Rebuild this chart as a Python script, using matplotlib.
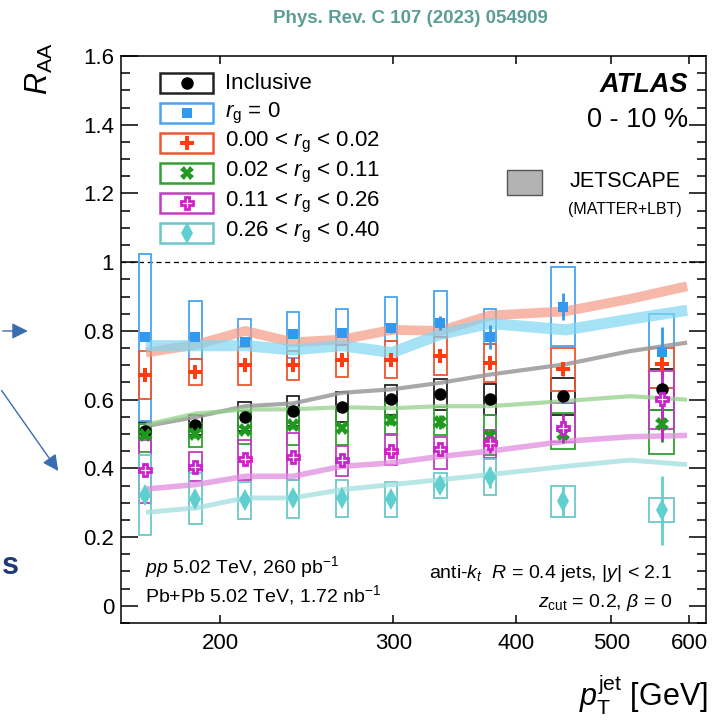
import numpy as np
import matplotlib
matplotlib.use('Agg')
import matplotlib.pyplot as plt
from matplotlib.patches import Rectangle, FancyArrowPatch
from matplotlib.ticker import FixedLocator, NullLocator, FuncFormatter, MultipleLocator

plt.rcParams['font.family'] = ['Liberation Sans', 'DejaVu Sans']
plt.rcParams['mathtext.fontset'] = 'custom'
plt.rcParams['mathtext.rm'] = 'Liberation Sans'
plt.rcParams['mathtext.it'] = 'Liberation Sans:italic'
plt.rcParams['mathtext.bf'] = 'Liberation Sans:bold'

# measurement pT bins (GeV)
bin_edges = np.array([158, 178, 200, 224, 251, 282, 316, 355, 398, 501, 631])

labels = ['Inclusive', r'$r_{\rm g}$ = 0', r'0.00 < $r_{\rm g}$ < 0.02',
          r'0.02 < $r_{\rm g}$ < 0.11', r'0.11 < $r_{\rm g}$ < 0.26',
          r'0.26 < $r_{\rm g}$ < 0.40']

# R_AA central values
raa_incl = [0.510, 0.526, 0.550, 0.567, 0.579, 0.601, 0.615, 0.601, 0.610, 0.632]
raa_rg0  = [0.782, 0.783, 0.768, 0.790, 0.793, 0.809, 0.822, 0.783, 0.871, 0.740]
raa_rg1  = [0.673, 0.681, 0.700, 0.701, 0.714, 0.715, 0.727, 0.708, 0.690, 0.703]
raa_rg2  = [0.497, 0.499, 0.513, 0.525, 0.518, 0.540, 0.535, 0.494, 0.499, 0.528]
raa_rg3  = [0.394, 0.404, 0.426, 0.433, 0.424, 0.452, 0.457, 0.474, 0.518, 0.603]
raa_rg4  = [0.322, 0.311, 0.309, 0.314, 0.314, 0.311, 0.353, 0.374, 0.304, 0.278]

# statistical uncertainties
stat_incl = [0.005, 0.005, 0.005, 0.005, 0.005, 0.005, 0.006, 0.008, 0.010, 0.015]
stat_rg0  = [0.010, 0.010, 0.010, 0.010, 0.010, 0.015, 0.020, 0.035, 0.040, 0.070]
stat_rg1  = [0.010, 0.010, 0.010, 0.010, 0.010, 0.010, 0.015, 0.020, 0.020, 0.040]
stat_rg2  = [0.010, 0.010, 0.010, 0.010, 0.010, 0.015, 0.020, 0.020, 0.025, 0.050]
stat_rg3  = [0.010, 0.010, 0.010, 0.010, 0.010, 0.010, 0.015, 0.030, 0.040, 0.120]
stat_rg4  = [0.010, 0.010, 0.010, 0.010, 0.010, 0.010, 0.015, 0.030, 0.045, 0.100]

# systematic boxes: upper and lower edges
sys_hi_incl = [0.535, 0.556, 0.594, 0.612, 0.622, 0.644, 0.659, 0.646, 0.664, 0.690]
sys_lo_incl = [0.488, 0.497, 0.508, 0.522, 0.535, 0.556, 0.571, 0.555, 0.555, 0.571]
sys_hi_rg0  = [1.023, 0.887, 0.836, 0.856, 0.865, 0.899, 0.915, 0.865, 0.985, 0.848]
sys_lo_rg0  = [0.537, 0.717, 0.752, 0.722, 0.759, 0.771, 0.783, 0.763, 0.756, 0.635]
sys_hi_rg1  = [0.741, 0.719, 0.753, 0.741, 0.759, 0.771, 0.783, 0.763, 0.749, 0.751]
sys_lo_rg1  = [0.603, 0.642, 0.644, 0.657, 0.667, 0.664, 0.671, 0.651, 0.625, 0.635]
sys_hi_rg2  = [0.530, 0.533, 0.567, 0.580, 0.566, 0.590, 0.580, 0.555, 0.560, 0.571]
sys_lo_rg2  = [0.449, 0.461, 0.471, 0.469, 0.469, 0.499, 0.497, 0.440, 0.457, 0.443]
sys_hi_rg3  = [0.482, 0.447, 0.482, 0.503, 0.466, 0.496, 0.492, 0.511, 0.591, 0.683]
sys_lo_rg3  = [0.300, 0.364, 0.365, 0.367, 0.379, 0.409, 0.397, 0.430, 0.476, 0.515]
sys_hi_rg4  = [0.440, 0.387, 0.361, 0.365, 0.367, 0.361, 0.387, 0.426, 0.348, 0.314]
sys_lo_rg4  = [0.205, 0.239, 0.253, 0.256, 0.260, 0.260, 0.314, 0.322, 0.260, 0.243]

# JETSCAPE (MATTER+LBT) curves
theo_pt   = [168, 189, 212, 237, 266, 299, 335, 376, 449, 522, 597]
theo_incl = [0.523, 0.550, 0.581, 0.589, 0.620, 0.630, 0.649, 0.673, 0.703, 0.741, 0.766]
theo_rg0  = [0.757, 0.757, 0.757, 0.745, 0.757, 0.737, 0.790, 0.822, 0.803, 0.834, 0.860]
theo_rg1  = [0.737, 0.760, 0.800, 0.767, 0.775, 0.803, 0.800, 0.845, 0.857, 0.893, 0.930]
theo_rg2  = [0.527, 0.560, 0.571, 0.572, 0.578, 0.575, 0.581, 0.581, 0.596, 0.610, 0.600]
theo_rg3  = [0.340, 0.353, 0.377, 0.377, 0.406, 0.416, 0.435, 0.450, 0.479, 0.492, 0.496]
theo_rg4  = [0.272, 0.285, 0.314, 0.314, 0.338, 0.353, 0.367, 0.382, 0.406, 0.424, 0.411]

raa = [raa_incl, raa_rg0, raa_rg1, raa_rg2, raa_rg3, raa_rg4]
stat = [stat_incl, stat_rg0, stat_rg1, stat_rg2, stat_rg3, stat_rg4]
sys_hi = [sys_hi_incl, sys_hi_rg0, sys_hi_rg1, sys_hi_rg2, sys_hi_rg3, sys_hi_rg4]
sys_lo = [sys_lo_incl, sys_lo_rg0, sys_lo_rg1, sys_lo_rg2, sys_lo_rg3, sys_lo_rg4]
theo = [theo_incl, theo_rg0, theo_rg1, theo_rg2, theo_rg3, theo_rg4]

# styles
colors = ['black', '#3399ee', '#ff3b0f', '#1f9a1f', '#cc22cc', '#5fcfcf']
box_colors = ['#222222', '#4aa3f0', '#ee5533', '#33a033', '#c33cc3', '#6cc8c8']
markers = ['o', 's', 'P', 'X', 'P', 'd']
msizes = [9, 7.5, 10.5, 10, 9, 11]
band_colors = ['#999999', '#7fd6f2', '#f49a85', '#93d08b', '#e08ee0', '#a6e0e0']
band_widths = [3, 8, 7, 3, 4, 3.5]
band_alpha = [0.85, 0.7, 0.7, 0.75, 0.75, 0.8]

fig = plt.figure(figsize=(7.12, 7.27), dpi=100)
ax = fig.add_axes([0.170, 0.143, 0.8216, 0.780])

lo = bin_edges[:-1]
hi = bin_edges[1:]
centers = np.sqrt(lo * hi)
half = 0.125 * np.log(hi / lo)
box_l = centers * np.exp(-half)
box_r = centers * np.exp(half)

ax.axhline(1.0, color='black', lw=0.9, ls=(0, (4, 3)), zorder=1)

for i in range(6):
    for j in range(len(centers)):
        ax.add_patch(Rectangle((box_l[j], sys_lo[i][j]), box_r[j] - box_l[j],
                               sys_hi[i][j] - sys_lo[i][j], fill=False,
                               edgecolor=box_colors[i], lw=1.3, zorder=2))

# theory bands
for i in [0, 3, 4, 5, 2, 1]:
    ax.plot(theo_pt, theo[i], color=band_colors[i], lw=band_widths[i],
            alpha=band_alpha[i], solid_capstyle='butt', zorder=3)

def mstyle(i):
    if i == 4:
        return dict(marker='P', ms=msizes[i], mfc='white', mec=colors[i], mew=2.0)
    return dict(marker=markers[i], ms=msizes[i], mfc=colors[i], mec=colors[i], mew=0)

for i in range(6):
    ax.errorbar(centers, raa[i], yerr=stat[i], fmt='none', ecolor=colors[i],
                elinewidth=2, capsize=0, zorder=4)
    ax.plot(centers, raa[i], ls='none', zorder=5, **mstyle(i))

# legend
row_y = [0.952, 0.899, 0.847, 0.794, 0.741, 0.688]
for i in range(6):
    ax.add_patch(Rectangle((0.067, row_y[i] - 0.0176), 0.091, 0.0352, fill=False,
                           edgecolor=box_colors[i], lw=1.8, transform=ax.transAxes,
                           zorder=6))
    ax.plot([0.1125], [row_y[i]], transform=ax.transAxes, zorder=7, **mstyle(i))
    ax.text(0.178, row_y[i], labels[i], transform=ax.transAxes, fontsize=16,
            va='center', ha='left')

ax.text(0.969, 0.949, 'ATLAS', transform=ax.transAxes, fontsize=19.5,
        fontweight='bold', fontstyle='italic', ha='right', va='center')
ax.text(0.969, 0.887, '0 - 10 %', transform=ax.transAxes, fontsize=19.5,
        ha='right', va='center')
ax.add_patch(Rectangle((0.660, 0.755), 0.060, 0.044, facecolor='#b3b3b3',
                       edgecolor='#555555', lw=1, transform=ax.transAxes))
ax.text(0.862, 0.778, 'JETSCAPE', transform=ax.transAxes, fontsize=15.5,
        ha='center', va='center')
ax.text(0.862, 0.730, '(MATTER+LBT)', transform=ax.transAxes, fontsize=11.5,
        ha='center', va='center')

ax.text(0.041, 0.099, r'$pp$ 5.02 TeV, 260 pb$^{-1}$', transform=ax.transAxes,
        fontsize=14, ha='left', va='center')
ax.text(0.041, 0.049, r'Pb+Pb 5.02 TeV, 1.72 nb$^{-1}$', transform=ax.transAxes,
        fontsize=14, ha='left', va='center')
ax.text(0.942, 0.087, r'anti-$k_{t}$  $R$ = 0.4 jets, |$y$| < 2.1', transform=ax.transAxes,
        fontsize=14, ha='right', va='center')
ax.text(0.942, 0.037, r'$z_{\rm cut}$ = 0.2, $\beta$ = 0', transform=ax.transAxes,
        fontsize=14, ha='right', va='center')

# axes
ax.set_xscale('log')
ax.set_xlim(158.5, 624)
ax.set_ylim(-0.05, 1.6)
ax.xaxis.set_major_locator(FixedLocator([200, 300, 400, 500, 600]))
ax.xaxis.set_major_formatter(FuncFormatter(lambda v, p: '%d' % v))
ax.xaxis.set_minor_locator(NullLocator())
ax.yaxis.set_major_locator(MultipleLocator(0.2))
ax.yaxis.set_minor_locator(MultipleLocator(0.05))
ax.yaxis.set_major_formatter(FuncFormatter(lambda v, p: '%g' % round(v, 2)))
ax.tick_params(axis='both', which='both', direction='in', top=True, right=True,
               labelsize=16, width=1.1)
ax.tick_params(axis='y', which='major', length=12, pad=5)
ax.tick_params(axis='y', which='minor', length=6.5)
ax.tick_params(axis='x', which='major', length=6, pad=7)
for s in ax.spines.values():
    s.set_linewidth(1.1)

fig.text(0.056, 0.905, r'$R_{\rm AA}$', fontsize=22, rotation=90, ha='center', va='center')
fig.text(0.994, 0.044, r'$p_{\rm T}^{\rm jet}$ [GeV]', fontsize=22, ha='right', va='center')
fig.text(0.577, 0.975, 'Phys. Rev. C 107 (2023) 054909', fontsize=13.5, fontweight='bold',
         color='#5c9e96', ha='center', va='center')

# arrows and a glyph from the surrounding slide
fig.add_artist(FancyArrowPatch((0.0, 0.5447), (0.043, 0.5447),
               transform=fig.transFigure, arrowstyle='-|>', mutation_scale=24,
               color='#3a6db0', lw=1))
fig.add_artist(FancyArrowPatch((0.0, 0.466), (0.084, 0.349),
               transform=fig.transFigure, arrowstyle='-|>', mutation_scale=24,
               color='#3a6db0', lw=1))
fig.text(0.002, 0.222, 's', fontsize=22, fontweight='bold', color='#1f3a75',
         ha='left', va='center')

fig.savefig('out.png', dpi=100)
